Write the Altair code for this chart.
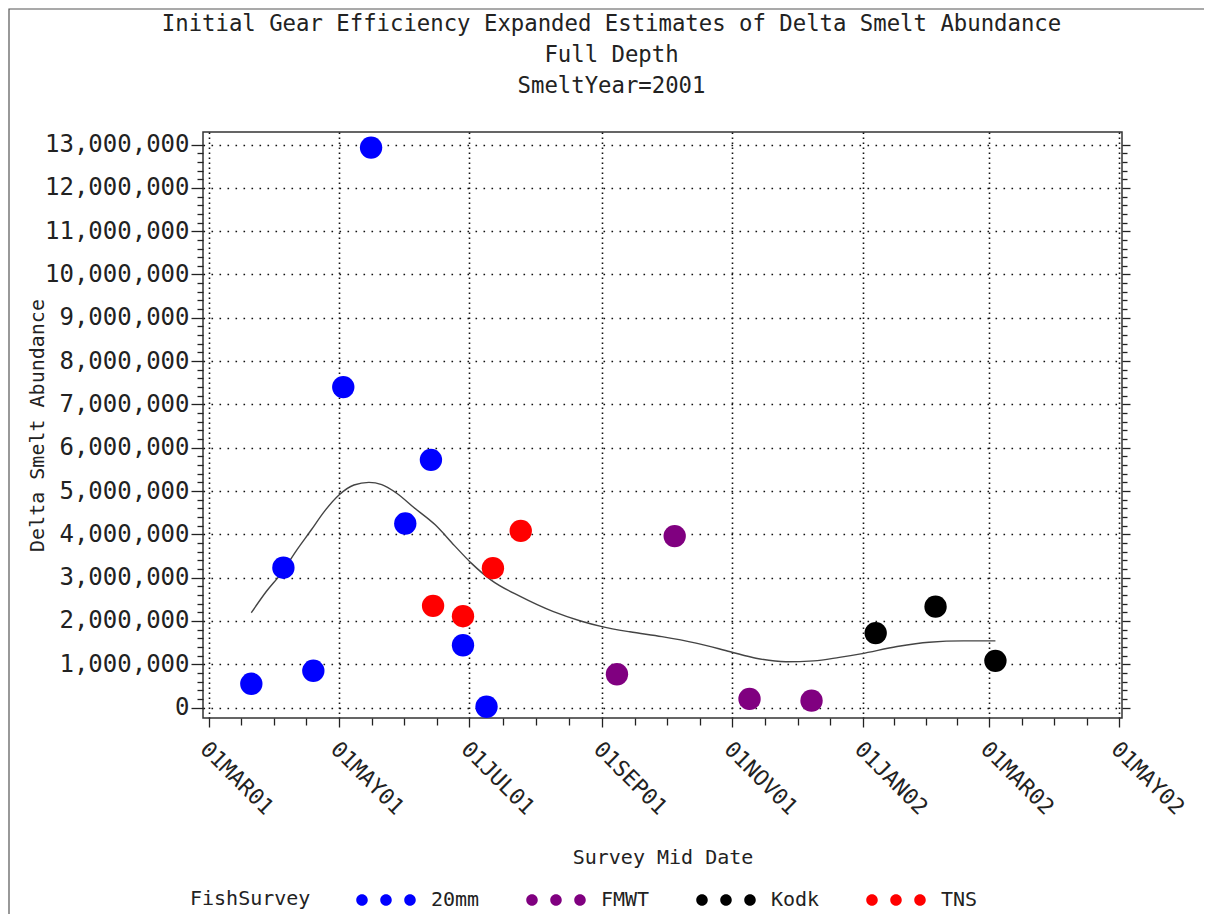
import altair as alt
import pandas as pd

# ---------------- data ----------------
dates_20mm = ["2001-03-21", "2001-04-05", "2001-04-19", "2001-05-03", "2001-05-16",
              "2001-06-01", "2001-06-13", "2001-06-28", "2001-07-09"]
abund_20mm = [550000, 3230000, 850000, 7400000, 12930000,
              4250000, 5720000, 1440000, 20000]

dates_tns = ["2001-06-14", "2001-06-28", "2001-07-12", "2001-07-25"]
abund_tns = [2350000, 2110000, 3220000, 4080000]

dates_fmwt = ["2001-09-08", "2001-10-05", "2001-11-09", "2001-12-08"]
abund_fmwt = [770000, 3960000, 200000, 160000]

dates_kodk = ["2002-01-07", "2002-02-04", "2002-03-04"]
abund_kodk = [1720000, 2330000, 1080000]

curve_dates = ["2001-03-21", "2001-03-28", "2001-04-04", "2001-04-11", "2001-04-18",
               "2001-04-24", "2001-05-01", "2001-05-08", "2001-05-15", "2001-05-21",
               "2001-05-28", "2001-06-05", "2001-06-15", "2001-06-24", "2001-07-02",
               "2001-07-11", "2001-07-25", "2001-08-09", "2001-08-22", "2001-09-01",
               "2001-09-14", "2001-09-29", "2001-10-15", "2001-10-31", "2001-11-12",
               "2001-11-26", "2001-12-09", "2001-12-21", "2001-12-31", "2002-01-17",
               "2002-02-01", "2002-02-17", "2002-03-04"]
curve_vals = [2190000, 2680000, 3100000, 3620000, 4100000, 4520000, 4910000, 5140000,
              5200000, 5150000, 4950000, 4620000, 4220000, 3740000, 3330000, 2950000,
              2560000, 2220000, 2000000, 1870000, 1750000, 1640000, 1490000, 1290000,
              1140000, 1060000, 1080000, 1160000, 1240000, 1410000, 1510000, 1540000,
              1540000]

survey_names = ["20mm", "FMWT", "Kodk", "TNS"]
survey_colors = ["#0000ff", "#800080", "#000000", "#ff0000"]

major_tick_dates = ["2001-03-01", "2001-05-01", "2001-07-01", "2001-09-01",
                    "2001-11-01", "2002-01-01", "2002-03-01", "2002-05-01"]
y_minor_step = 200000
y_max_tick = 13000000

title_lines = ["Initial Gear Efficiency Expanded Estimates of Delta Smelt Abundance",
               "Full Depth", "SmeltYear=2001"]

# ---------------- tables ----------------
rows = []
for name, ds, vs in [("20mm", dates_20mm, abund_20mm), ("TNS", dates_tns, abund_tns),
                     ("FMWT", dates_fmwt, abund_fmwt), ("Kodk", dates_kodk, abund_kodk)]:
    for d, v in zip(ds, vs):
        rows.append({"date": d, "abund": v, "FishSurvey": name})
points_df = pd.DataFrame(rows)
curve_df = pd.DataFrame({"date": curve_dates, "abund": curve_vals})


def ms(s):
    return int(pd.Timestamp(s, tz="UTC").value // 10**6)


major_ms = [ms(d) for d in major_tick_dates]
x_ticks = []
for a, b in zip(major_ms[:-1], major_ms[1:]):
    for k in range(4):
        x_ticks.append(a + (b - a) * k // 4)
x_ticks.append(major_ms[-1])

day = 86400000
x_domain = [major_ms[0] - int(2.6 * day), major_ms[-1] + int(1.2 * day)]
y_ticks = list(range(0, y_max_tick + 1, y_minor_step))
y_domain = [-240000, 13290000]

FONT = "DejaVu Sans Mono"
TXT = "#222222"

is_major_x = ("utcdate(datum.value) == 1 && utchours(datum.value) == 0 "
              "&& utcmonth(datum.value) % 2 == 0")
is_major_y = "datum.value % 1000000 == 0"

xscale = alt.Scale(type="utc", domain=x_domain, nice=False)
yscale = alt.Scale(domain=y_domain, nice=False, zero=False)

x_axis = alt.Axis(
    values=x_ticks,
    labelExpr=f"{is_major_x} ? upper(utcFormat(datum.value, '%d%b%y')) : ''",
    labelAngle=45, labelAlign="left", labelBaseline="middle", labelPadding=18,
    labelOffset=-5,
    labelFont=FONT, labelFontSize=22, labelColor=TXT, labelOverlap=False,
    labelFlush=False,
    tickSize={"condition": {"test": is_major_x, "value": 9}, "value": 7},
    tickColor="#222", tickWidth=1.3,
    grid=True, gridColor="#111", gridWidth=1.6, gridDash=[1.6, 3.4],
    gridOpacity={"condition": {"test": is_major_x, "value": 1}, "value": 0},
    domain=False,
    title="Survey Mid Date", titleFont=FONT, titleFontSize=20,
    titleFontWeight="normal", titleColor=TXT, titleY=139, titleBaseline="middle",
)

y_axis_left = alt.Axis(
    orient="left", values=y_ticks,
    labelExpr=f"{is_major_y} ? format(datum.value, ',d') : ''",
    labelFont=FONT, labelFontSize=24, labelColor=TXT, labelPadding=2,
    labelOverlap=False, labelFlush=False,
    tickSize={"condition": {"test": is_major_y, "value": 12}, "value": 6},
    tickColor="#222", tickWidth=1.3,
    grid=True, gridColor="#111", gridWidth=1.6, gridDash=[1.6, 6.4],
    gridOpacity={"condition": {"test": is_major_y, "value": 1}, "value": 0},
    domain=False,
    title="Delta Smelt Abundance", titleFont=FONT, titleFontSize=20,
    titleFontWeight="normal", titleColor=TXT, titleX=-166, titleBaseline="middle",
)

y_axis_right = alt.Axis(
    orient="right", values=y_ticks, labels=False, grid=False, domain=False,
    tickSize={"condition": {"test": is_major_y, "value": 8}, "value": 5},
    tickColor="#222", tickWidth=1.3, title=None,
)


def dot(cx, r):
    return f"M{cx - r},0A{r},{r} 0 1,0 {cx + r},0A{r},{r} 0 1,0 {cx - r},0Z"


# three dots, 2 units apart (symbol scale = sqrt(size)/2 = 12px per unit)
three_dots = " ".join(dot(c, 0.48) for c in (-2, 0, 2))

legend = alt.Legend(
    orient="none", legendX=-13, legendY=756, direction="horizontal", columns=4,
    title="FishSurvey", titleOrient="left", titleFont=FONT, titleFontSize=20,
    titleFontWeight="normal", titleColor=TXT, titlePadding=63,
    titleBaseline="middle", titleAnchor="middle",
    symbolType=three_dots, symbolSize=576, symbolStrokeWidth=0, symbolOpacity=1,
    labelFont=FONT, labelFontSize=20, labelColor=TXT, labelOffset=33,
    columnPadding=46,
)

W, H = 919, 586

border = alt.Chart(alt.Data(values=[{}])).mark_rect(
    fill=None, stroke="#555555", strokeWidth=1.2
).encode(
    x=alt.value(-194), x2=alt.value(W + 200), y=alt.value(-123), y2=alt.value(H + 300)
)

curve = alt.Chart(curve_df).mark_line(
    color="#444444", strokeWidth=1.4, interpolate="monotone"
).encode(
    x=alt.X("date:T", scale=xscale, axis=x_axis),
    y=alt.Y("abund:Q", scale=yscale, axis=y_axis_right),
)

points = alt.Chart(points_df).mark_circle(size=500, opacity=1).encode(
    x=alt.X("date:T", scale=xscale, axis=x_axis),
    y=alt.Y("abund:Q", scale=yscale, axis=y_axis_left),
    color=alt.Color("FishSurvey:N",
                    scale=alt.Scale(domain=survey_names, range=survey_colors),
                    legend=legend),
)

chart = alt.layer(border, curve, points).resolve_axis(y="independent").properties(
    width=W, height=H,
    autosize=alt.AutoSizeParams(type="none"),
    padding={"left": 195, "top": 124, "right": 82, "bottom": 196},
    background="white",
    title=alt.TitleParams(
        text=title_lines, font=FONT, fontSize=22.3, fontWeight="normal", color=TXT,
        anchor="middle", frame="group", dx=-51, baseline="bottom", lineHeight=31,
        offset=-112,
    ),
).configure_view(stroke="#333333", strokeWidth=1.5)

chart.save("out.html", embed_options={"renderer": "svg", "actions": False})
